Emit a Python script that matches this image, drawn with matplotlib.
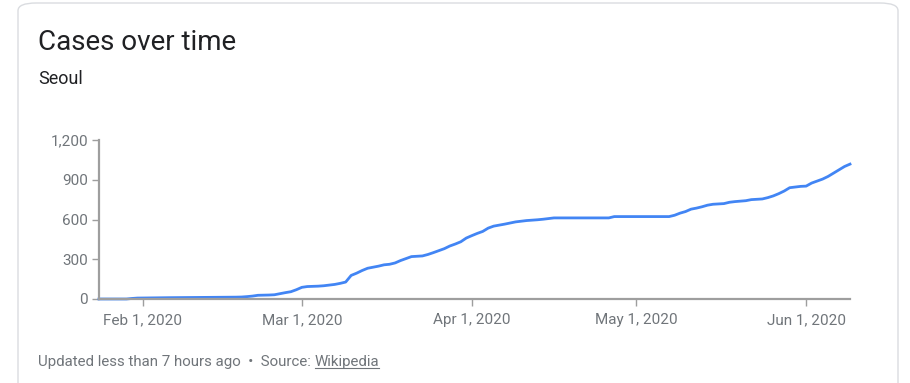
import numpy as np
import pandas as pd
import matplotlib
matplotlib.use("Agg")
import matplotlib.pyplot as plt
from matplotlib.patches import FancyBboxPatch

plt.rcParams['font.family'] = ['Roboto', 'DejaVu Sans']

# cumulative cases in Seoul
dates = ["2020-01-24", "2020-01-29", "2020-01-30", "2020-01-31", "2020-02-06",
         "2020-02-18", "2020-02-19", "2020-02-20", "2020-02-21", "2020-02-22",
         "2020-02-24", "2020-02-25", "2020-02-26", "2020-02-27", "2020-02-28",
         "2020-02-29", "2020-03-01", "2020-03-02", "2020-03-04", "2020-03-05",
         "2020-03-06", "2020-03-07", "2020-03-08", "2020-03-09", "2020-03-10",
         "2020-03-11", "2020-03-12", "2020-03-13", "2020-03-14", "2020-03-15",
         "2020-03-16", "2020-03-17", "2020-03-18", "2020-03-19", "2020-03-20",
         "2020-03-21", "2020-03-23", "2020-03-24", "2020-03-25", "2020-03-26",
         "2020-03-27", "2020-03-28", "2020-03-29", "2020-03-30", "2020-03-31",
         "2020-04-01", "2020-04-02", "2020-04-03", "2020-04-04", "2020-04-05",
         "2020-04-07", "2020-04-09", "2020-04-11", "2020-04-13", "2020-04-14",
         "2020-04-16", "2020-04-26", "2020-04-27", "2020-05-07", "2020-05-08",
         "2020-05-09", "2020-05-10", "2020-05-11", "2020-05-12", "2020-05-13",
         "2020-05-14", "2020-05-15", "2020-05-17", "2020-05-18", "2020-05-19",
         "2020-05-21", "2020-05-22", "2020-05-24", "2020-05-25", "2020-05-26",
         "2020-05-27", "2020-05-28", "2020-05-29", "2020-05-31", "2020-06-01",
         "2020-06-02", "2020-06-03", "2020-06-04", "2020-06-05", "2020-06-06",
         "2020-06-07", "2020-06-08", "2020-06-09"]
cases = [0, 0, 4, 7, 10,
         14, 15, 18, 22, 28,
         30, 32, 40, 48, 55,
         70, 88, 94, 97, 100,
         105, 110, 118, 128, 178,
         195, 215, 232, 240, 248,
         258, 262, 272, 290, 305,
         320, 325, 336, 350, 365,
         380, 400, 415, 432, 460,
         478, 495, 510, 535, 550,
         565, 582, 592, 598, 602,
         612, 612, 622, 622, 632,
         648, 660, 678, 686, 696,
         708, 715, 720, 730, 735,
         742, 750, 755, 765, 778,
         795, 815, 840, 850, 852,
         875, 890, 905, 925, 950,
         975, 1000, 1018]

yticks = [0, 300, 600, 900, 1200]
ytick_labels = ["0", "300", "600", "900", "1,200"]
xticks = ["2020-02-01", "2020-03-01", "2020-04-01", "2020-05-01", "2020-06-01"]
xtick_labels = ["Feb 1, 2020", "Mar 1, 2020", "Apr 1, 2020", "May 1, 2020", "Jun 1, 2020"]

W, H = 910, 383
fig = plt.figure(figsize=(W / 100, H / 100), dpi=100)
fig.patch.set_facecolor("white")

# card outline
card = FancyBboxPatch((18 / W, -0.1), 880 / W, 1.1 - 3 / H,
                      boxstyle="round,pad=0,rounding_size=0.02",
                      transform=fig.transFigure, facecolor="none",
                      edgecolor="#dadce0", linewidth=1.0, zorder=-1)
fig.patches.append(card)

fig.text(38 / W, 1 - 42 / H, "Cases over time", fontsize=20, color="#202124",
         va="center", ha="left")
fig.text(38 / W, 1 - 79 / H, "Seoul", fontsize=13, color="#202124",
         va="center", ha="left")

ax = fig.add_axes([99 / W, 1 - 299 / H, (850 - 99) / W, (299 - 140) / H])
x = pd.to_datetime(dates)
ax.plot(x, cases, color="#4285f4", linewidth=2.0, solid_joinstyle="round",
        clip_on=False)

ax.set_xlim(pd.Timestamp("2020-01-24"), pd.Timestamp("2020-06-09"))
ax.set_ylim(0, 1200)
ax.set_yticks(yticks)
ax.set_yticklabels(ytick_labels)
ax.set_xticks(pd.to_datetime(xticks))
ax.set_xticklabels(xtick_labels)

for s in ["top", "right"]:
    ax.spines[s].set_visible(False)
for s in ["left", "bottom"]:
    ax.spines[s].set_color("#9e9e9e")
    ax.spines[s].set_linewidth(1.6)
ax.tick_params(axis="both", colors="#9e9e9e", labelcolor="#70757a",
               labelsize=11, length=5, width=1.0)
ax.tick_params(axis="y", pad=3)
ax.tick_params(axis="x", pad=5)
ax.set_facecolor("none")

t1 = fig.text(38 / W, 1 - 362 / H, "Updated less than 7 hours ago  \u2022  Source: ",
              fontsize=10.8, color="#70757a", va="center", ha="left")
fig.canvas.draw()
b1 = t1.get_window_extent()
t2 = fig.text(b1.x1 / W, 1 - 362 / H, "Wikipedia", fontsize=10.8, color="#70757a",
              va="center", ha="left")
fig.canvas.draw()
bb = t2.get_window_extent()
fig.add_artist(plt.Line2D([bb.x0 / W, bb.x1 / W], [(bb.y0 + 1) / H] * 2,
                          color="#70757a", linewidth=0.8,
                          transform=fig.transFigure))

fig.savefig("out.png", dpi=100)
